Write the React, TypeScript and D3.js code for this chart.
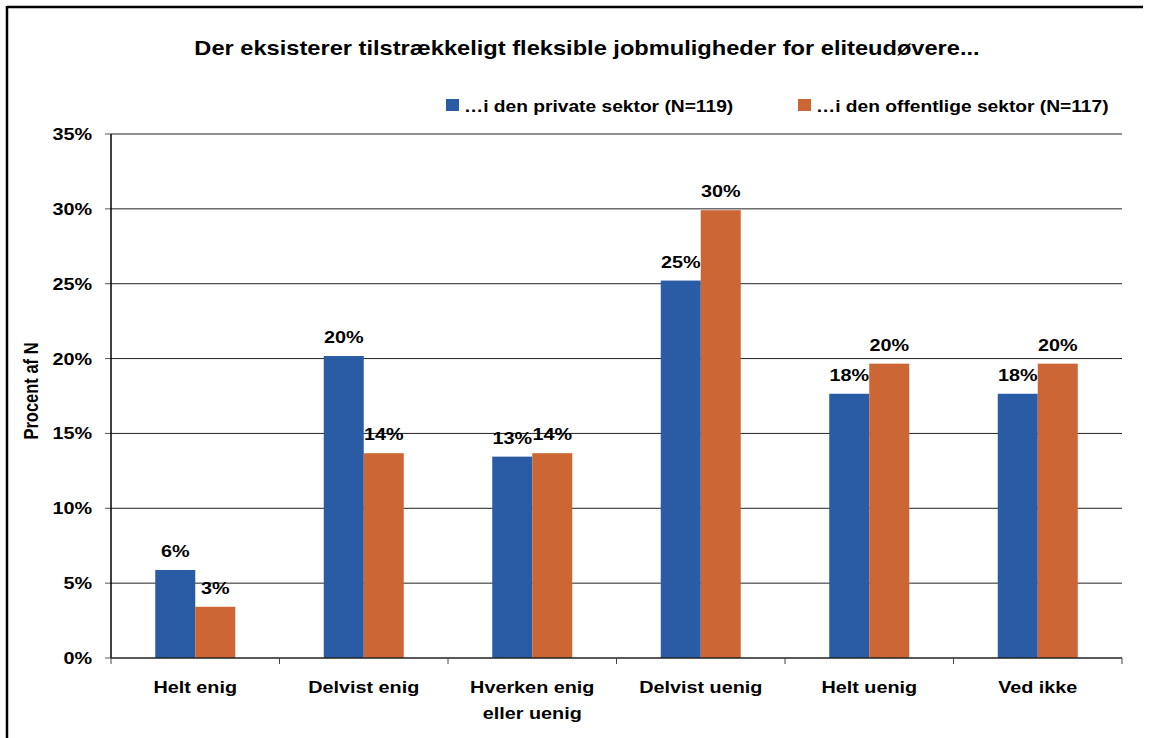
import React from "react";
import * as d3 from "d3";

const categories: string[][] = [
  ["Helt enig"],
  ["Delvist enig"],
  ["Hverken enig", "eller uenig"],
  ["Delvist uenig"],
  ["Helt uenig"],
  ["Ved ikke"],
];
const privateValues = [5.88, 20.17, 13.45, 25.21, 17.65, 17.65];
const publicValues = [3.42, 13.68, 13.68, 29.91, 19.66, 19.66];
const seriesNames = ["…i den private sektor (N=119)", "…i den offentlige sektor (N=117)"];
const yTicks = [0, 5, 10, 15, 20, 25, 30, 35];
const title = "Der eksisterer tilstrækkeligt fleksible jobmuligheder for eliteudøvere...";
const yLabel = "Procent af N";

const W = 1152;
const H = 738;
const colors = ["#2A5BA5", "#CC6634"];
const font = "Arial, 'Liberation Sans', sans-serif";
const SX = 1.2;

function T({ x, y, size, anchor = "start", children }: { x: number; y: number; size: number; anchor?: string; children: React.ReactNode }) {
  return (
    <text transform={`translate(${x},${y}) scale(${SX},1)`} textAnchor={anchor} fontSize={size} fontWeight="bold" fill="#000">
      {children}
    </text>
  );
}

export default function App() {
  const left = 111;
  const right = 1122;
  const top = 134;
  const bottom = 658;
  const x = d3.scaleBand<number>().domain(d3.range(categories.length)).range([left, right]);
  const y = d3.scaleLinear().domain([0, 35]).range([bottom, top]);
  const barW = 40;
  const series = [privateValues, publicValues];

  return (
    <svg width={W} height={H} style={{ position: "absolute", left: 0, top: 0 }} fontFamily={font}>
      <rect x={0} y={0} width={W} height={H} fill="#fff" />
      <line x1={7} y1={7} x2={1143} y2={7} stroke="#000" strokeWidth={2.5} />
      <line x1={7} y1={6} x2={7} y2={H} stroke="#000" strokeWidth={2.5} />
      <T x={587} y={55} size={19.7} anchor="middle">{title}</T>
      {/* legend */}
      <rect x={446} y={99} width={13} height={12} fill={colors[0]} />
      <T x={464} y={112} size={16}>{seriesNames[0]}</T>
      <rect x={798} y={99} width={13} height={12} fill={colors[1]} />
      <T x={816} y={112} size={16}>{seriesNames[1]}</T>
      {/* gridlines */}
      {yTicks.map((t) => (
        <g key={t}>
          {t > 0 && <line x1={left} x2={right} y1={y(t)} y2={y(t)} stroke="#222" strokeWidth={1} />}
          <line x1={left - 6} x2={left} y1={y(t)} y2={y(t)} stroke="#555" strokeWidth={1} />
          <T x={92} y={y(t) + 6} size={16.5} anchor="end">{t + "%"}</T>
        </g>
      ))}
      <text transform={`translate(38,391) scale(${SX},1) rotate(-90)`} textAnchor="middle" fontSize={16.5} fontWeight="bold">{yLabel}</text>
      {/* bars */}
      {categories.map((c, i) => {
        const cx = (x(i) as number) + x.bandwidth() / 2;
        return (
          <g key={i}>
            {series.map((vals, s) => {
              const bx = cx - barW + s * barW;
              return (
                <g key={s}>
                  <rect x={bx} y={y(vals[i])} width={barW} height={bottom - y(vals[i])} fill={colors[s]} />
                  <T x={bx + barW / 2} y={y(vals[i]) - 13} size={16.5} anchor="middle">
                    {Math.round(vals[i]) + "%"}
                  </T>
                </g>
              );
            })}
            {c.map((line, k) => (
              <T key={k} x={cx} y={693 + k * 26} size={16.5} anchor="middle">{line}</T>
            ))}
          </g>
        );
      })}
      {/* axes */}
      <line x1={left} x2={left} y1={top} y2={bottom} stroke="#000" strokeWidth={1.5} />
      <line x1={left} x2={right} y1={bottom} y2={bottom} stroke="#222" strokeWidth={1.5} />
      {d3.range(categories.length + 1).map((i) => {
        const tx = i < categories.length ? (x(i) as number) : right;
        return <line key={i} x1={tx} x2={tx} y1={bottom} y2={bottom + 6} stroke="#444" strokeWidth={1} />;
      })}
    </svg>
  );
}
